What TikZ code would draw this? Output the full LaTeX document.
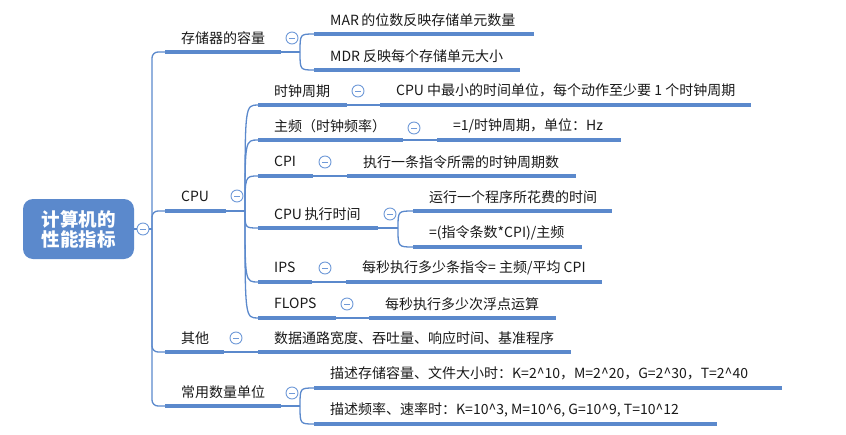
\documentclass[tikz,border=0pt]{standalone}
\usepackage{fontspec}
\setmainfont{Noto Sans CJK SC}
\definecolor{mblue}{RGB}{91,137,204}
\definecolor{fblue}{RGB}{112,154,216}
\tikzset{
 conn/.style={draw=mblue, line width=1.3pt},
 bar/.style={draw=mblue, line width=4pt},
 topic/.style={anchor=south west, inner xsep=16pt, inner ysep=0pt, minimum height=28pt, font=\fontsize{14}{16}\selectfont, text=black!90},
 fold/.style={circle, draw=fblue, fill=white, line width=0.9pt, minimum size=12pt, inner sep=0pt,
   path picture={\draw[fblue, line width=0.9pt] ([xshift=-3pt]path picture bounding box.center) -- ([xshift=3pt]path picture bounding box.center);}},
 rootbox/.style={fill=mblue, rounded corners=10pt, minimum width=111pt, minimum height=60pt, text=white, align=center, font=\fontsize{18.5}{20}\selectfont\bfseries}
}
\begin{document}
\begin{tikzpicture}[x=1pt,y=-1pt]
\useasboundingbox (0,0) rectangle (846,434);
% root
\node[rootbox] (r) at (78.5,229) {计算机的\\性能指标};
% level 1
\node[topic] (a1) at (165,52)  {\makebox[84pt][l]{存储器的容量}};
\node[topic] (a2) at (165,211) {\makebox[29pt][l]{CPU}};
\node[topic] (a3) at (165,352) {\makebox[27pt][l]{其他}};
\node[topic] (a4) at (165,406) {\makebox[84pt][l]{常用数量单位}};
% storage
\node[topic] (b1) at (314,34) {\makebox[188pt][l]{MAR\hspace{2.5pt}的位数反映存储单元数量}};
\node[topic] (b2) at (314,70) {\makebox[174pt][l]{MDR\hspace{3pt}反映每个存储单元大小}};
% CPU
\node[topic] (c1) at (258,105) {\makebox[57pt][l]{时钟周期}};
\node[topic] (c2) at (258,140) {\makebox[113pt][l]{主频（时钟频率）}};
\node[topic] (c3) at (258,176) {\makebox[23pt][l]{CPI}};
\node[topic] (c4) at (258,228) {\makebox[88pt][l]{CPU\hspace{2.5pt}执行时间}};
\node[topic] (c5) at (258,282) {\makebox[22pt][l]{IPS}};
\node[topic] (c6) at (258,318) {\makebox[46pt][l]{FLOPS}};
\node[topic] (d1) at (380,105) {\makebox[339pt][l]{CPU 中最小的时间单位，每个动作至少要 1 个时钟周期}};
\node[topic] (d2) at (437,140) {\makebox[152pt][l]{=1/时钟周期，单位：Hz}};
\node[topic] (d3) at (347,176) {\makebox[197pt][l]{执行一条指令所需的时钟周期数}};
\node[topic] (d4a) at (413,211) {\makebox[167pt][l]{运行一个程序所花费的时间}};
\node[topic] (d4b) at (413,247) {\makebox[137pt][l]{=(指令条数*CPI)/主频}};
\node[topic] (d5) at (346,282) {\makebox[224pt][l]{每秒执行多少条指令= 主频/平均 CPI}};
\node[topic] (d6) at (369,318) {\makebox[155pt][l]{每秒执行多少次浮点运算}};
% others
\node[topic] (e1) at (258,352) {\makebox[281pt][l]{数据通路宽度、吞吐量、响应时间、基准程序}};
% units
\node[topic] (g1) at (314,388) {\makebox[436pt][l]{描述存储容量、文件大小时：K=2\textasciicircum10，M=2\textasciicircum20，G=2\textasciicircum30，T=2\textasciicircum40}};
\node[topic] (g2) at (314,424) {\makebox[371pt][l]{描述频率、速率时：K=10\textasciicircum3, M=10\textasciicircum6, G=10\textasciicircum9, T=10\textasciicircum12}};
% bars
\foreach \t in {a1,a2,a3,a4,b1,b2,c1,c2,c3,c4,c5,c6,d1,d2,d3,d4a,d4b,d5,d6,e1,g1,g2}
  \draw[bar] (\t.south west) -- (\t.south east);
% root connectors
\node[fold] (k0) at (143,229) {};
\coordinate (s0) at (152,229);
\draw[conn] (r.east) -- (k0.west);
\draw[conn] (k0.east) -- (s0);
\foreach \t in {a1,a2,a3,a4}
  \draw[conn, rounded corners=6pt] (s0) |- (\t.south west);
% storage fork
\coordinate (f1) at (300,52);
\draw[conn] (a1.south east) -- (f1);
\foreach \t in {b1,b2}
  \draw[conn] (f1) .. controls (f1 |- \t.south west) .. (\t.south west);
\node[fold] (k1) at (292,38) {};
% CPU fork
\coordinate (f2) at (245,211);
\draw[conn] (a2.south east) -- (f2);
\foreach \t in {c1,c2,c3,c4,c5,c6}
  \draw[conn] (f2) .. controls (f2 |- \t.south west) .. (\t.south west);
\node[fold] (k2) at (237,196) {};
% CPU children
\draw[conn] (c1.south east) -- (d1.south west);
\node[fold] (k3) at (358,91) {};
\draw[conn] (c2.south east) -- (d2.south west);
\node[fold] (k4) at (414,128) {};
\draw[conn] (c3.south east) -- (d3.south west);
\node[fold] (k5) at (325,162) {};
\coordinate (f4) at (398,228);
\draw[conn] (c4.south east) -- (f4);
\foreach \t in {d4a,d4b}
  \draw[conn] (f4) .. controls (f4 |- \t.south west) .. (\t.south west);
\node[fold] (k6) at (390,214) {};
\draw[conn] (c5.south east) -- (d5.south west);
\node[fold] (k7) at (325,268) {};
\draw[conn] (c6.south east) -- (d6.south west);
\node[fold] (k8) at (347,304) {};
% others
\draw[conn] (a3.south east) -- (e1.south west);
\node[fold] (k9) at (236,338) {};
% units fork
\coordinate (f5) at (300,406);
\draw[conn] (a4.south east) -- (f5);
\foreach \t in {g1,g2}
  \draw[conn] (f5) .. controls (f5 |- \t.south west) .. (\t.south west);
\node[fold] (k10) at (292,393) {};
\end{tikzpicture}
\end{document}
